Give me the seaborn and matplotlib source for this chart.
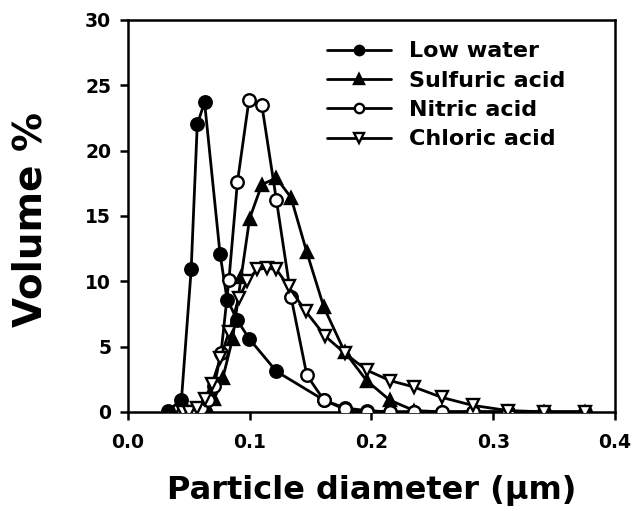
import matplotlib
matplotlib.use("Agg")
import matplotlib.pyplot as plt
import seaborn as sns
import pandas as pd

# Particle size distributions (diameter in µm, volume %)
low_water_x = [0.033, 0.044, 0.052, 0.057, 0.063, 0.0757, 0.0815, 0.090, 0.0996, 0.122,
               0.161, 0.178, 0.196, 0.215, 0.235, 0.258, 0.283, 0.312, 0.342, 0.375]
low_water_y = [0.1, 0.9, 10.9, 22.0, 23.7, 12.1, 8.6, 7.0, 5.6, 3.1,
               0.9, 0.3, 0.1, 0.0, 0.0, 0.0, 0.0, 0.0, 0.0, 0.0]

sulfuric_x = [0.049, 0.054, 0.059, 0.065, 0.071, 0.078, 0.086, 0.093, 0.100, 0.110,
              0.122, 0.134, 0.147, 0.161, 0.178, 0.196, 0.215, 0.235, 0.258, 0.283,
              0.312, 0.342, 0.375]
sulfuric_y = [0.0, 0.0, 0.1, 0.4, 1.0, 2.6, 5.6, 10.3, 14.8, 17.4,
              17.9, 16.4, 12.2, 8.0, 4.6, 2.4, 0.9, 0.1, 0.0, 0.0,
              0.0, 0.0, 0.0]

nitric_x = [0.045, 0.050, 0.055, 0.060, 0.066, 0.071, 0.0765, 0.083, 0.090, 0.0995,
            0.110, 0.122, 0.134, 0.147, 0.161, 0.178, 0.196, 0.215, 0.235, 0.258,
            0.283, 0.312]
nitric_y = [0.0, 0.0, 0.1, 0.3, 0.9, 2.0, 4.5, 10.1, 17.6, 23.9,
            23.5, 16.2, 8.8, 2.8, 0.9, 0.2, 0.0, 0.0, 0.0, 0.0,
            0.0, 0.0]

chloric_x = [0.045, 0.050, 0.057, 0.063, 0.069, 0.076, 0.083, 0.091, 0.098, 0.106,
             0.114, 0.122, 0.132, 0.146, 0.162, 0.178, 0.196, 0.215, 0.235, 0.258,
             0.283, 0.312, 0.342, 0.375]
chloric_y = [0.0, 0.0, 0.3, 1.0, 2.1, 4.1, 6.1, 8.7, 10.0, 10.9,
             11.0, 10.9, 9.6, 7.7, 5.8, 4.5, 3.2, 2.4, 1.9, 1.1,
             0.5, 0.1, 0.0, 0.0]

series_names = ["Low water", "Sulfuric acid", "Nitric acid", "Chloric acid"]
x_ticks = [0.0, 0.1, 0.2, 0.3, 0.4]
y_ticks = [0, 5, 10, 15, 20, 25, 30]

frames = []
for name, xs, ys in zip(series_names,
                        [low_water_x, sulfuric_x, nitric_x, chloric_x],
                        [low_water_y, sulfuric_y, nitric_y, chloric_y]):
    frames.append(pd.DataFrame({"diameter": xs, "volume": ys, "sample": name}))
df = pd.concat(frames, ignore_index=True)

sns.set_style("ticks")
plt.rcParams["font.family"] = ["DejaVu Sans"]
plt.rcParams["font.weight"] = "bold"
for key in ["text.color", "axes.labelcolor", "xtick.color", "ytick.color",
            "axes.edgecolor"]:
    plt.rcParams[key] = "black"

fig = plt.figure(figsize=(6.36, 5.11), dpi=100)
ax = fig.add_axes([0.201, 0.194, 0.766, 0.767])

styles = {
    "Low water": dict(marker="o", markerfacecolor="black"),
    "Sulfuric acid": dict(marker="^", markerfacecolor="black"),
    "Nitric acid": dict(marker="o", markerfacecolor="white"),
    "Chloric acid": dict(marker="v", markerfacecolor="white"),
}

for i, name in enumerate(series_names):
    sub = df[df["sample"] == name]
    sns.lineplot(data=sub, x="diameter", y="volume", ax=ax, color="black",
                 linewidth=2.0, markersize=9, markeredgecolor="black",
                 markeredgewidth=1.7, label=name, zorder=3 + i, **styles[name])

ax.set_xlim(0.0, 0.4)
ax.set_ylim(0, 30)
ax.set_xticks(x_ticks)
ax.set_xticklabels([f"{v:.1f}" for v in x_ticks])
ax.set_yticks(y_ticks)
ax.set_yticklabels([str(v) for v in y_ticks])
ax.tick_params(direction="out", length=6, width=1.8, labelsize=13.5, colors="black")
ax.tick_params(axis="x", pad=9)
ax.tick_params(axis="y", pad=6)
for lab in ax.get_xticklabels() + ax.get_yticklabels():
    lab.set_fontweight("bold")
for sp in ax.spines.values():
    sp.set_linewidth(1.8)
    sp.set_color("black")

ax.set_xlabel("Particle diameter (\u03bcm)", fontsize=23, fontweight="bold", labelpad=17)
ax.set_ylabel("Volume %", fontsize=28, fontweight="bold")
ax.yaxis.set_label_coords(-0.16, 0.49)

leg = ax.legend(loc="upper left", bbox_to_anchor=(0.39, 0.968), frameon=False,
                fontsize=16, handlelength=2.9, handletextpad=0.8,
                labelspacing=0.42, markerscale=0.75, borderaxespad=0.0)
for t in leg.get_texts():
    t.set_fontweight("bold")

fig.savefig("out.png", dpi=100)
